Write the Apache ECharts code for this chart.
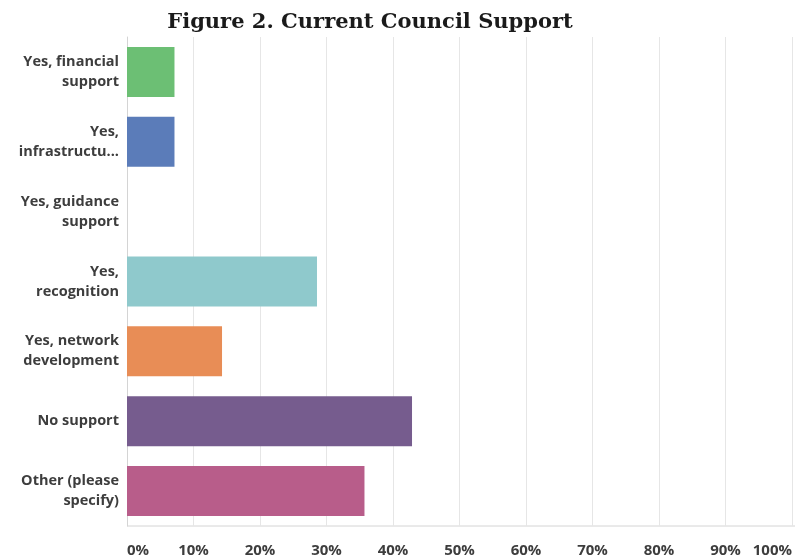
<!DOCTYPE html>
<html>
<head>
<meta charset="utf-8">
<script src="https://cdn.jsdelivr.net/npm/echarts@6/dist/echarts.min.js"></script>
<style>
  html, body { margin: 0; padding: 0; background: #fff; }
  #chart { width: 795px; height: 558px; }
</style>
</head>
<body>
<div id="chart"></div>
<script>
const categories = [
  "Yes, financial\nsupport",
  "Yes,\ninfrastructu...",
  "Yes, guidance\nsupport",
  "Yes,\nrecognition",
  "Yes, network\ndevelopment",
  "No support",
  "Other (please\nspecify)",
];
const percents = [7.14, 7.14, 0, 28.57, 14.29, 42.86, 35.71];
const barColors = ["#6cbf74", "#5b7cb9", "#f4c74f", "#8fc9cc", "#e88d56", "#765c8e", "#b85d8a"];

const chart = echarts.init(document.getElementById("chart"));

chart.setOption({
  animation: false,
  title: {
    text: "Figure 2. Current Council Support",
    left: 365,
    textAlign: "center",
    top: 7,
    textStyle: {
      fontFamily: "DejaVu Serif",
      fontWeight: "bold",
      fontSize: 21,
      color: "#1a1a1a",
    },
  },
  grid: { left: 127, right: -1, top: 37, bottom: 32 },
  xAxis: {
    type: "value",
    min: 0,
    max: 100,
    interval: 10,
    axisLine: { show: false },
    axisTick: { show: false },
    splitLine: { lineStyle: { color: "#e6e6e6", width: 1 } },
    axisLabel: {
      formatter: "{value}%",
      margin: 17,
      alignMinLabel: "left",
      alignMaxLabel: "right",
      fontFamily: "Open Sans",
      fontWeight: "bold",
      fontSize: 15,
      color: "#3d3d3d",
    },
  },
  yAxis: {
    type: "category",
    data: categories,
    inverse: true,
    axisLine: { show: true, lineStyle: { color: "#d4d4d4" } },
    axisTick: { show: false },
    axisLabel: {
      margin: 8,
      fontFamily: "Open Sans",
      fontWeight: "bold",
      fontSize: 14.5,
      lineHeight: 20,
      color: "#3d3d3d",
      align: "right",
    },
  },
  series: [
    {
      type: "bar",
      data: percents.map((v, i) => ({ value: v, itemStyle: { color: barColors[i] } })),
      barWidth: 50,
    },
  ],
  graphic: [
    {
      type: "line",
      shape: { x1: 127, y1: 526, x2: 795, y2: 526 },
      style: { stroke: "#d4d4d4", lineWidth: 1 },
    },
  ],
});
</script>
</body>
</html>
